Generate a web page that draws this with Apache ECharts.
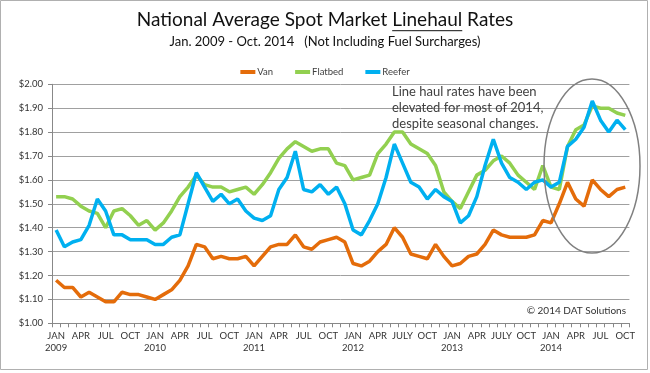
<!DOCTYPE html>
<html>
<head>
<meta charset="utf-8">
<script src="https://cdn.jsdelivr.net/npm/echarts@6/dist/echarts.min.js"></script>
<style>
html,body{margin:0;padding:0;background:#fff;}
#chart{width:650px;height:373px;}
</style>
</head>
<body>
<div id="chart"></div>
<script>
const categories = [
'Jan 2009','Feb 2009','Mar 2009','Apr 2009','May 2009','Jun 2009','Jul 2009','Aug 2009','Sep 2009','Oct 2009','Nov 2009','Dec 2009',
'Jan 2010','Feb 2010','Mar 2010','Apr 2010','May 2010','Jun 2010','Jul 2010','Aug 2010','Sep 2010','Oct 2010','Nov 2010','Dec 2010',
'Jan 2011','Feb 2011','Mar 2011','Apr 2011','May 2011','Jun 2011','Jul 2011','Aug 2011','Sep 2011','Oct 2011','Nov 2011','Dec 2011',
'Jan 2012','Feb 2012','Mar 2012','Apr 2012','May 2012','Jun 2012','Jul 2012','Aug 2012','Sep 2012','Oct 2012','Nov 2012','Dec 2012',
'Jan 2013','Feb 2013','Mar 2013','Apr 2013','May 2013','Jun 2013','Jul 2013','Aug 2013','Sep 2013','Oct 2013','Nov 2013','Dec 2013',
'Jan 2014','Feb 2014','Mar 2014','Apr 2014','May 2014','Jun 2014','Jul 2014','Aug 2014','Sep 2014','Oct 2014'
];
const tickLabels = [
'JAN\n2009','','','APR','','','JUL','','','OCT','','',
'JAN\n2010','','','APR','','','JUL','','','OCT','','',
'JAN\n2011','','','APR','','','JUL','','','OCT','','',
'JAN\n2012','','','APR','','','JULY','','','OCT','','',
'JAN\n2013','','','APR','','','JULY','','','OCT','','',
'JAN\n2014','','','APR','','','JUL','','','OCT'
];
const van = [
1.18,1.15,1.15,1.11,1.13,1.11,1.09,1.09,1.13,1.12,1.12,1.11,
1.10,1.12,1.14,1.18,1.24,1.33,1.32,1.27,1.28,1.27,1.27,1.28,
1.24,1.28,1.32,1.33,1.33,1.37,1.32,1.31,1.34,1.35,1.36,1.34,
1.25,1.24,1.26,1.30,1.33,1.40,1.36,1.29,1.28,1.27,1.33,1.28,
1.24,1.25,1.28,1.29,1.33,1.39,1.37,1.36,1.36,1.36,1.37,1.43,
1.42,1.50,1.59,1.52,1.49,1.60,1.56,1.53,1.56,1.57
];
const flatbed = [
1.53,1.53,1.52,1.49,1.47,1.46,1.40,1.47,1.48,1.45,1.41,1.43,
1.39,1.42,1.47,1.53,1.57,1.62,1.58,1.57,1.57,1.55,1.56,1.57,
1.54,1.58,1.63,1.69,1.73,1.76,1.74,1.72,1.73,1.73,1.67,1.66,
1.60,1.61,1.62,1.71,1.75,1.80,1.80,1.75,1.73,1.71,1.66,1.55,
1.51,1.48,1.55,1.62,1.64,1.68,1.70,1.67,1.62,1.59,1.56,1.66,
1.57,1.56,1.74,1.81,1.83,1.91,1.90,1.90,1.88,1.87
];
const reefer = [
1.39,1.32,1.34,1.35,1.41,1.52,1.47,1.37,1.37,1.35,1.35,1.35,
1.33,1.33,1.36,1.37,1.50,1.63,1.57,1.51,1.54,1.50,1.52,1.47,
1.44,1.43,1.45,1.56,1.61,1.72,1.56,1.55,1.58,1.54,1.57,1.50,
1.39,1.37,1.43,1.50,1.61,1.75,1.67,1.59,1.57,1.52,1.56,1.53,
1.51,1.42,1.45,1.53,1.66,1.77,1.67,1.61,1.59,1.56,1.59,1.60,
1.57,1.59,1.74,1.77,1.82,1.93,1.85,1.80,1.85,1.81
];
const seriesNames = ['Van','Flatbed','Reefer'];
const seriesColors = ['#E46C0A','#92D050','#00B0F0'];
const titleA = 'National Average Spot Market ';
const titleB = 'Linehaul';
const titleC = ' Rates';
const subtitle = 'Jan. 2009 - Oct. 2014   (Not Including Fuel Surcharges)';
const note = 'Line haul rates have been\nelevated for most of 2014,\ndespite seasonal changes.';
const credit = '\u00A9 2014 DAT Solutions';

const FONT = 'Lato, "Open Sans", sans-serif';
const titleFont = '19px ' + FONT;
const cvs = document.createElement('canvas').getContext('2d');
cvs.font = titleFont;
const wA = cvs.measureText(titleA).width;
const wB = cvs.measureText(titleB).width;
const wAll = cvs.measureText(titleA + titleB + titleC).width;
const titleX = 325;
const ulStart = titleX - wAll / 2 + wA;

const chart = echarts.init(document.getElementById('chart'), null, {renderer: 'canvas'});
const allSeries = [van, flatbed, reefer];
chart.setOption({
  animation: false,
  backgroundColor: '#fff',
  textStyle: {fontFamily: FONT},
  grid: {left: 52, right: 20.6, top: 84.3, bottom: 49.7, containLabel: false},
  legend: {
    top: 62, left: 'center', itemGap: 22,
    itemWidth: 15, itemHeight: 4, icon: 'rect',
    textStyle: {fontSize: 9.5, color: '#404040', fontFamily: FONT, padding: [0,0,0,-3]},
    data: seriesNames
  },
  xAxis: {
    type: 'category', data: categories, boundaryGap: true,
    axisLine: {lineStyle: {color: '#888', width: 1}},
    axisTick: {show: true, interval: 0, length: 4, lineStyle: {color: '#888'}},
    axisLabel: {
      interval: (i) => tickLabels[i] !== '',
      formatter: (v, i) => tickLabels[i],
      fontSize: 9.5, color: '#333', lineHeight: 12, margin: 7, fontFamily: FONT
    },
    splitLine: {show: false}
  },
  yAxis: {
    type: 'value', min: 1, max: 2, interval: 0.1,
    axisLine: {show: true, lineStyle: {color: '#888'}},
    axisTick: {show: true, length: 4, lineStyle: {color: '#888'}},
    axisLabel: {formatter: (v) => '$' + v.toFixed(2), fontSize: 9.5, color: '#333', margin: 9, fontFamily: FONT},
    splitLine: {lineStyle: {color: '#a0a0a0', width: 1}}
  },
  series: seriesNames.map((n, k) => ({
    name: n, type: 'line', data: allSeries[k], showSymbol: false, symbol: 'none',
    color: seriesColors[k], lineStyle: {width: 3.5, color: seriesColors[k]}, z: 2 + k
  })),
  graphic: [
    {type: 'rect', shape: {x: 0.5, y: 0.5, width: 647, height: 369}, style: {fill: 'none', stroke: '#b0b0b0', lineWidth: 1}, z: 100},
    {type: 'text', x: titleX, y: 20, style: {text: titleA + titleB + titleC, font: titleFont, fill: '#111', align: 'center', verticalAlign: 'middle'}},
    {type: 'line', shape: {x1: ulStart, y1: 30.7, x2: ulStart + wB, y2: 30.7}, style: {stroke: '#111', lineWidth: 1}},
    {type: 'text', x: 325, y: 42, style: {text: subtitle, font: '13px ' + FONT, fill: '#111', align: 'center', verticalAlign: 'middle'}},
    {type: 'text', x: 392, y: 83.5, style: {text: note, font: '13px ' + FONT, fill: '#404040', align: 'left', verticalAlign: 'top', lineHeight: 16}, z: 50},
    {type: 'ellipse', shape: {cx: 592, cy: 166, rx: 48, ry: 87}, style: {fill: 'none', stroke: '#808080', lineWidth: 1.5}, z: 60},
    {type: 'text', x: 626, y: 310.7, style: {text: credit, font: '10px ' + FONT, fill: '#333', align: 'right', verticalAlign: 'middle'}, z: 50}
  ]
});
</script>
</body>
</html>
